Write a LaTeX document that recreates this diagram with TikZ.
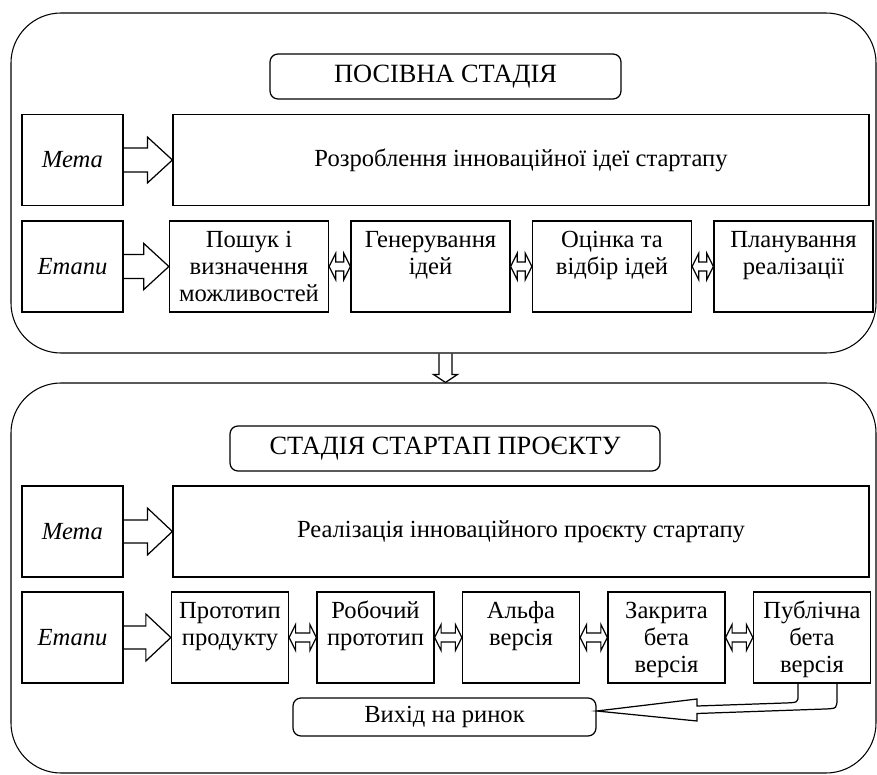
\documentclass[tikz,border=0pt]{standalone}
\usepackage{fontspec}
\setmainfont{Liberation Serif}
\usetikzlibrary{calc,positioning}
\newcommand{\toptext}[2]{\parbox[c][1.53cm][t]{#1}{\centering\strut #2}}
% block arrow pointing right: from, to, shaft half, head half, head length
\newcommand{\fatarrow}[5]{%
  \draw[blk] let \p1=(#1), \p2=(#2) in
    (\x1,\y1+#3) -- (\x2-#5,\y1+#3) -- (\x2-#5,\y1+#4) -- (\x2,\y1)
    -- (\x2-#5,\y1-#4) -- (\x2-#5,\y1-#3) -- (\x1,\y1-#3);}
% two-headed block arrow between neighbours
\newcommand{\twinarrow}[2]{%
  \draw[blk] let \p1=(#1), \p2=(#2) in
    (\x1,\y1) -- (\x1+0.13cm,\y1+0.26cm) -- (\x1+0.13cm,\y1+0.09cm)
    -- (\x2-0.13cm,\y1+0.09cm) -- (\x2-0.13cm,\y1+0.26cm) -- (\x2,\y1)
    -- (\x2-0.13cm,\y1-0.26cm) -- (\x2-0.13cm,\y1-0.09cm)
    -- (\x1+0.13cm,\y1-0.09cm) -- (\x1+0.13cm,\y1-0.26cm) -- cycle;}
% block arrow pointing down
\newcommand{\downblk}[2]{%
  \draw[blk] let \p1=(#1), \p2=(#2) in
    (\x1-0.13cm,\y1) -- (\x1-0.13cm,\y2+0.16cm) -- (\x1-0.24cm,\y2+0.16cm)
    -- (\x1,\y2) -- (\x1+0.24cm,\y2+0.16cm) -- (\x1+0.13cm,\y2+0.16cm)
    -- (\x1+0.13cm,\y1);}

\begin{document}
\begin{tikzpicture}[
  stagebox/.style={draw,rounded corners=1cm,line width=0.6pt,
                   minimum width=17.3cm},
  ttlbox/.style={draw,rounded corners=0.16cm,line width=0.7pt,
                 minimum height=0.9cm,font=\fontsize{15}{18}\selectfont},
  lblbox/.style={draw,line width=0.7pt,minimum width=2.02cm,
                 minimum height=1.82cm,font=\fontsize{14}{15.4}\selectfont\itshape},
  goalbox/.style={draw,line width=0.7pt,minimum width=13.92cm,
                  minimum height=1.82cm,font=\fontsize{14}{15.4}\selectfont},
  stepbox/.style={draw,line width=0.7pt,inner sep=4pt,minimum height=1.82cm,
                  font=\fontsize{14}{15.4}\selectfont},
  blk/.style={line width=0.7pt,line join=miter}
]
\useasboundingbox (0,0) rectangle (17.54,-15.5);
% Seed stage
\node[stagebox,minimum height=6.8cm] (seed) at (8.87,-3.66) {};
\node[ttlbox,minimum width=7.02cm] (seedttl) at (8.91,-1.53) {ПОСІВНА СТАДІЯ};
\node[lblbox] (meta1) at (1.45,-3.2) {Мета};
\node[goalbox] (goal1) at (10.42,-3.2)
  {Розроблення інноваційної ідеї стартапу};
\node[lblbox] (steps1) at (1.45,-5.33) {Етапи};
\node[stepbox,minimum width=3.04cm] (search) at (4.98,-5.33)
  {\toptext{2.9cm}{Пошук і\\визначення\\можливостей}};
\node[stepbox,minimum width=3.04cm] (gen) at (8.61,-5.33)
  {\toptext{2.9cm}{Генерування\\ідей}};
\node[stepbox,minimum width=3.04cm] (eval) at (12.24,-5.33)
  {\toptext{2.9cm}{Оцінка та\\відбір ідей}};
\node[stepbox,minimum width=3.04cm] (plan) at (15.87,-5.33)
  {\toptext{2.9cm}{Планування\\реалізації}};
% Startup project stage
\node[stagebox,minimum height=7.8cm] (proj) at (8.87,-11.56) {};
\node[ttlbox,minimum width=8.6cm] (projttl) at (8.9,-8.97)
  {СТАДІЯ СТАРТАП ПРОЄКТУ};
\node[lblbox] (meta2) at (1.45,-10.63) {Мета};
\node[goalbox] (goal2) at (10.42,-10.63)
  {Реалізація інноваційного проєкту стартапу};
\node[lblbox] (steps2) at (1.45,-12.75) {Етапи};
\node[stepbox,minimum width=2.28cm,inner sep=2pt] (proto) at (4.6,-12.75)
  {\toptext{2.2cm}{Прототип\\продукту}};
\node[stepbox,minimum width=2.28cm,inner sep=2pt] (work) at (7.51,-12.75)
  {\toptext{2.2cm}{Робочий\\прототип}};
\node[stepbox,minimum width=2.28cm,inner sep=2pt] (alpha) at (10.42,-12.75)
  {\toptext{2.2cm}{Альфа\\версія}};
\node[stepbox,minimum width=2.28cm,inner sep=2pt] (closed) at (13.33,-12.75)
  {\toptext{2.2cm}{Закрита\\бета\\версія}};
\node[stepbox,minimum width=2.28cm,inner sep=2pt] (public) at (16.24,-12.75)
  {\toptext{2.2cm}{Публічна\\бета\\версія}};
\node[ttlbox,minimum width=6.06cm,minimum height=0.76cm,
      font=\fontsize{14}{15.4}\selectfont] (market) at (8.89,-14.34)
  {Вихід на ринок};
% Arrows
\fatarrow{meta1.east}{goal1.west}{0.24cm}{0.46cm}{0.5cm}
\fatarrow{steps1.east}{search.west}{0.24cm}{0.46cm}{0.5cm}
\fatarrow{meta2.east}{goal2.west}{0.23cm}{0.47cm}{0.5cm}
\fatarrow{steps2.east}{proto.west}{0.23cm}{0.47cm}{0.5cm}
\twinarrow{search.east}{gen.west}
\twinarrow{gen.east}{eval.west}
\twinarrow{eval.east}{plan.west}
\twinarrow{proto.east}{work.west}
\twinarrow{work.east}{alpha.west}
\twinarrow{alpha.east}{closed.west}
\twinarrow{closed.east}{public.west}
\downblk{seed.south -| seedttl}{proj.north -| seedttl}
% Exit to market
\draw[blk] ($(public.south)+(-0.28,0)$) -- (15.96,-13.9)
  .. controls (15.96,-14.05) .. (15.7,-14.06) -- (13.94,-14.12)
  -- (13.94,-13.98) -- ($(market.east)+(0,0.12)$) -- (13.94,-14.42)
  -- (13.94,-14.27) -- (16.5,-14.18)
  .. controls (16.74,-14.17) .. (16.74,-13.95) -- ($(public.south)+(0.5,0)$);
\end{tikzpicture}
\end{document}
